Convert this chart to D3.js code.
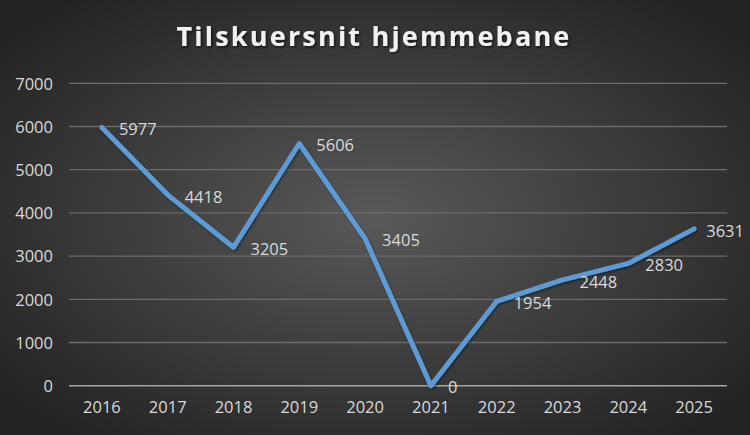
<!DOCTYPE html>
<html><head><meta charset="utf-8">
<script src="https://cdn.jsdelivr.net/npm/d3@7"></script>
<style>html,body{margin:0;padding:0;background:#2a2a2a;}svg{display:block;}</style>
</head><body>
<script>
const years = ["2016","2017","2018","2019","2020","2021","2022","2023","2024","2025"];
const values = [5977,4418,3205,5606,3405,0,1954,2448,2830,3631];
const yTicks = [0,1000,2000,3000,4000,5000,6000,7000];
const title = "Tilskuersnit hjemmebane";

(function(){
const W = 750, H = 435;
const svg = d3.select("body").append("svg").attr("width", W).attr("height", H);
const defs = svg.append("defs");
const grad = defs.append("radialGradient").attr("id","bg")
  .attr("cx","50%").attr("cy","50%").attr("r","65%").attr("gradientUnits","objectBoundingBox");
grad.append("stop").attr("offset","0%").attr("stop-color","#595959");
grad.append("stop").attr("offset","100%").attr("stop-color","#222222");
const sh = defs.append("filter").attr("id","ts").attr("x","-10%").attr("y","-30%").attr("width","120%").attr("height","160%");
sh.append("feDropShadow").attr("dx",1.5).attr("dy",1.5).attr("stdDeviation",1.2).attr("flood-color","#000").attr("flood-opacity",0.6);
const ls = defs.append("filter").attr("id","ls").attr("x","-10%").attr("y","-10%").attr("width","120%").attr("height","120%");
ls.append("feDropShadow").attr("dx",1).attr("dy",1.5).attr("stdDeviation",1.2).attr("flood-color","#000").attr("flood-opacity",0.45);

svg.append("rect").attr("width",W).attr("height",H).attr("fill","url(#bg)");

const mLeft = 69, mRight = 727, mTop = 83.3, mBottom = 385.7;
const x = d3.scaleBand().domain(years).range([mLeft,mRight]);
const y = d3.scaleLinear().domain([0,7000]).range([mBottom, mTop]);
const font = "'Open Sans', 'Noto Sans', sans-serif";
const fs = "16.5px";

svg.append("g").selectAll("line").data(yTicks.filter(d=>d>0)).join("line")
  .attr("x1",mLeft).attr("x2",mRight).attr("y1",d=>y(d)).attr("y2",d=>y(d))
  .attr("stroke","#6b6b6b").attr("stroke-width",1.3);
svg.append("line").attr("x1",mLeft).attr("x2",mRight).attr("y1",y(0)).attr("y2",y(0))
  .attr("stroke","#a6a6a6").attr("stroke-width",1.5);

const yAxis = d3.axisLeft(y).tickValues(yTicks).tickSize(0).tickPadding(0).tickFormat(d3.format("d"));
const gy = svg.append("g").attr("transform",`translate(53,0)`).call(yAxis);
gy.select(".domain").remove();
gy.selectAll("text").attr("fill","#d9d9d9").attr("font-size",fs).attr("font-family",font).attr("dy","0.35em");

const xAxis = d3.axisBottom(x).tickSize(0).tickPadding(0);
const gx = svg.append("g").attr("transform",`translate(0,${mBottom+16})`).call(xAxis);
gx.select(".domain").remove();
gx.selectAll("text").attr("fill","#d9d9d9").attr("font-size",fs).attr("font-family",font).attr("dy","0.71em");

const px = d => x(d) + x.bandwidth()/2;
const line = d3.line().x((d,i)=>px(years[i])).y(d=>y(d));
svg.append("path").datum(values).attr("d",line).attr("fill","none")
  .attr("stroke","#5b9bd5").attr("stroke-width",5).attr("stroke-linecap","round").attr("stroke-linejoin","round")
  .attr("filter","url(#ls)");

const lab = svg.append("g").selectAll("text").data(values).join("text")
  .attr("x",(d,i)=>px(years[i])+17).attr("y",d=>y(d)+2).attr("dy","0.35em")
  .attr("fill","#d9d9d9").attr("font-size",fs).attr("font-family",font)
  .text(d=>d);
lab.each(function(){
  const bb = this.getBBox();
  if (bb.x + bb.width > W - 6) d3.select(this).attr("x", W - 6 - bb.width);
});

svg.append("text").attr("x",374).attr("y",46).attr("text-anchor","middle")
  .attr("fill","#f2f2f2").attr("font-size","27px").attr("font-weight","bold")
  .attr("font-family",font).attr("letter-spacing","2.2px").attr("filter","url(#ts)")
  .text(title);
})();
</script>
</body></html>
